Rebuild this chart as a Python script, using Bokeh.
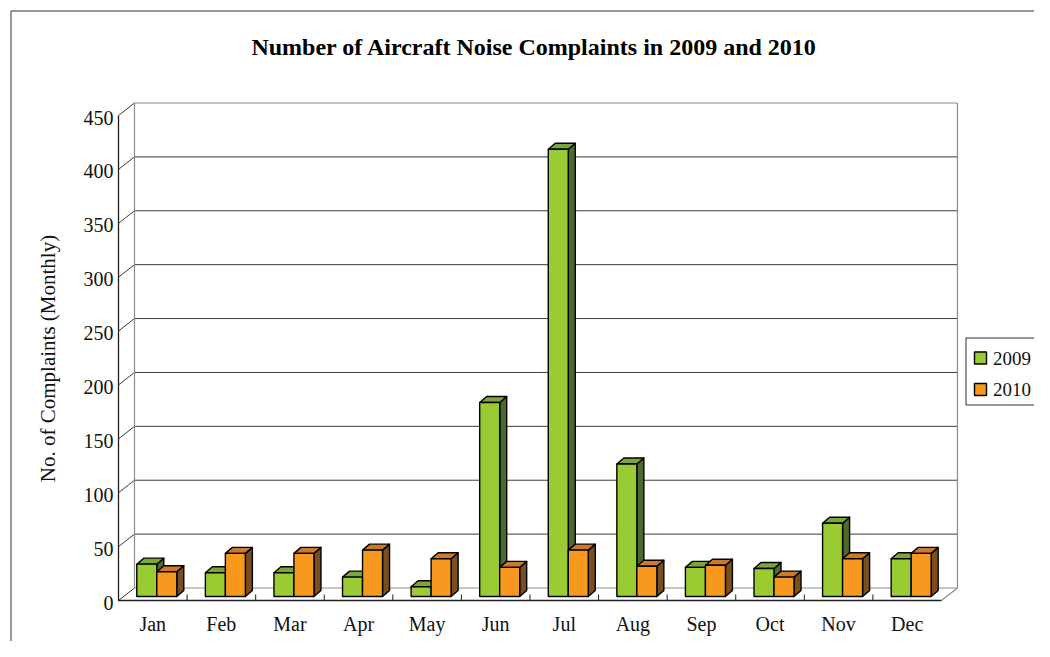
import math
from bokeh.plotting import figure
from bokeh.models import Range1d, ColumnDataSource
from bokeh.core.properties import value
from bokeh.embed import file_html
from bokeh.resources import INLINE

# ---------------- data ----------------
months = ["Jan", "Feb", "Mar", "Apr", "May", "Jun",
          "Jul", "Aug", "Sep", "Oct", "Nov", "Dec"]
complaints_2009 = [30, 22, 22, 18, 9, 180, 415, 123, 27, 26, 68, 35]
complaints_2010 = [23, 40, 40, 43, 35, 27, 43, 28, 29, 18, 35, 40]
series_names = ["2009", "2010"]
y_ticks = [0, 50, 100, 150, 200, 250, 300, 350, 400, 450]
chart_title = "Number of Aircraft Noise Complaints in 2009 and 2010"
y_title = "No. of Complaints (Monthly)"

# ---------------- layout / styles ----------------
W, H = 1034, 641
PX = 68.58            # pixels per category
K = 485.0 / 450.0     # pixels per complaint
OX, OY = 118, 600     # pixel of the front origin
FONT = "Liberation Serif"

def wx(X):
    return (X - OX) / PX

def wy(Y):
    return (OY - Y) / K

NC = len(months)
YMAX = y_ticks[-1]
DX, DY = 16 / PX, 12.5 / K          # depth of the wall
BW = 20 / PX                        # bar width
FX, FY = 4 / PX, 4 / K              # bar front-face offset into the depth
BDX, BDY = 7 / PX, 6 / K            # bar depth

front_colors = ["#99cc33", "#f7991e"]
top_colors = ["#7aa63a", "#cc7a2a"]
side_colors = ["#4e6a2b", "#7b4e1e"]

p = figure(width=W, height=H, title=None,
           x_range=Range1d(wx(0), wx(W)),
           y_range=Range1d(wy(H), wy(0)),
           x_axis_type=None, y_axis_type=None,
           toolbar_location=None, output_backend="svg",
           min_border=0, outline_line_color=None,
           background_fill_color="white", border_fill_color="white")

# outer chart border (left and top visible)
p.segment(x0=[wx(10.5), wx(10.5)], y0=[wy(10.5), wy(10.5)],
          x1=[wx(10.5), wx(W)], y1=[wy(H), wy(10.5)],
          line_color="#303030", line_width=1)

# ---------------- walls and grid ----------------
n = len(y_ticks)
grid_colors = ["#8c8c8c" if t in (0, YMAX) else "#3a3a3a" for t in y_ticks]
p.segment(x0=[DX] * n, y0=[t + DY for t in y_ticks],
          x1=[NC + DX] * n, y1=[t + DY for t in y_ticks],
          line_color=grid_colors, line_width=1)
# left wall diagonals (ticks)
p.segment(x0=[0] * n, y0=y_ticks, x1=[DX] * n, y1=[t + DY for t in y_ticks],
          line_color="#3a3a3a", line_width=1)
# wall edges
p.segment(x0=[DX, NC + DX, NC], y0=[DY, DY, 0],
          x1=[DX, NC + DX, NC + DX], y1=[YMAX + DY, YMAX + DY, DY],
          line_color="#8c8c8c", line_width=1.2)
# front axes
p.segment(x0=[0, 0], y0=[0, 0], x1=[0, NC], y1=[YMAX, 0],
          line_color="#202020", line_width=1.3)
# category ticks on floor
p.segment(x0=list(range(1, NC)), y0=[0] * (NC - 1),
          x1=list(range(1, NC)), y1=[6 / K] * (NC - 1),
          line_color="#202020", line_width=1)

# ---------------- bars ----------------
for s, vals in enumerate([complaints_2009, complaints_2010]):
    left = [i + 0.5 + FX - BW + s * BW for i in range(NC)]
    right = [l + BW for l in left]
    bottom = [FY] * NC
    top = [v + FY for v in vals]
    side_xs = [[r, r + BDX, r + BDX, r] for r in right]
    side_ys = [[b, b + BDY, t + BDY, t] for b, t in zip(bottom, top)]
    top_xs = [[l, r, r + BDX, l + BDX] for l, r in zip(left, right)]
    top_ys = [[t, t, t + BDY, t + BDY] for t in top]
    p.patches(xs=side_xs, ys=side_ys, fill_color=side_colors[s],
              line_color="black", line_width=1.4, line_join="round")
    p.patches(xs=top_xs, ys=top_ys, fill_color=top_colors[s],
              line_color="black", line_width=1.4, line_join="round")
    src = ColumnDataSource(dict(left=left, right=right, bottom=bottom, top=top,
                                month=months, count=vals))
    p.quad(left="left", right="right", bottom="bottom", top="top", source=src,
           fill_color=front_colors[s], line_color="black", line_width=1.4)

# ---------------- texts ----------------
p.text(x=[wx(113)] * n, y=[t - 2 / K for t in y_ticks],
       text=[str(t) for t in y_ticks],
       text_align="right", text_baseline="middle",
       text_font=value(FONT), text_font_size="20px", text_color="#111111")
p.text(x=[i + 0.5 for i in range(NC)], y=[wy(623)] * NC, text=months,
       text_align="center", text_baseline="middle",
       text_font=value(FONT), text_font_size="20px", text_color="#111111")
p.text(x=[wx(47)], y=[wy(358)], text=[y_title], angle=math.pi / 2,
       text_align="center", text_baseline="middle",
       text_font=value(FONT), text_font_size="21px", text_color="#111111")
p.text(x=[wx(534)], y=[wy(46)], text=[chart_title],
       text_align="center", text_baseline="middle",
       text_font=value(FONT), text_font_size="24px", text_font_style="bold",
       text_color="black")

# ---------------- legend ----------------
LX = 965.5
leg_centers = [wy(357.5), wy(389)]
p.segment(x0=[wx(LX), wx(LX), wx(LX)],
          y0=[wy(337.5), wy(337.5), wy(404.5)],
          x1=[wx(LX), wx(W), wx(W)],
          y1=[wy(404.5), wy(337.5), wy(404.5)],
          line_color="#303030", line_width=1)
p.quad(left=[wx(LX + 8.5)] * 2, right=[wx(LX + 20.5)] * 2,
       bottom=[c - 6 / K for c in leg_centers],
       top=[c + 6 / K for c in leg_centers],
       fill_color=front_colors, line_color="black", line_width=1.4)
p.text(x=[wx(LX + 27)] * 2, y=leg_centers, text=series_names,
       text_align="left", text_baseline="middle",
       text_font=value(FONT), text_font_size="19px", text_color="#111111")

open("out.html", "w").write(file_html(p, INLINE))
